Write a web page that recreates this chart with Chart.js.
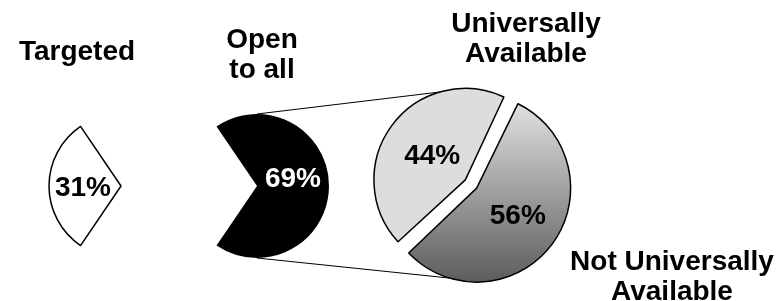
<!DOCTYPE html>
<html>
<head>
<meta charset="utf-8">
<script src="https://cdn.jsdelivr.net/npm/chart.js@4/dist/chart.umd.min.js"></script>
<style>
  body { margin: 0; background: #fff; }
  #wrap { position: relative; width: 783px; height: 301px; overflow: hidden; }
  #wrap canvas { position: absolute; left: 0; top: 0; }
  .lbl { position: absolute; font-family: "Liberation Sans", Arial, sans-serif; font-weight: bold;
         font-size: 28px; line-height: 30px; text-align: center; color: #000; white-space: nowrap; }
</style>
</head>
<body>
<div id="wrap">
  <canvas id="pieTargeted" width="783" height="301"></canvas>
  <canvas id="pieOpen" width="783" height="301"></canvas>
  <canvas id="pieAvail" width="783" height="301"></canvas>
  <div class="lbl" style="left:14px; top:36px; width:126px;">Targeted</div>
  <div class="lbl" style="left:202px; top:24px; width:120px;">Open<br>to all</div>
  <div class="lbl" style="left:446px; top:8px; width:160px;">Universally<br>Available</div>
  <div class="lbl" style="left:562px; top:246px; width:220px;">Not Universally<br>Available</div>
</div>
<script>
  // first pie: who can get it
  var accessLabels = ["Targeted", "Open to all"];
  var accessValues = [31, 69];

  // second pie: split of the "open to all" part
  var availLabels = ["Universally Available", "Not Universally Available"];
  var availValues = [44, 56];

  Chart.defaults.font.family = "'Liberation Sans', Arial, sans-serif";
  Chart.defaults.animation = false;

  // radius the arc is really painted with (chart.js grows offset slices a bit)
  function drawnRadius(arc) {
    var shift = (arc.options.offset || 0) / 4;
    var circ = arc.endAngle - arc.startAngle;
    return arc.outerRadius + shift * (1 - Math.sin(Math.min(Math.PI, circ)));
  }

  // percentage text inside each slice (only for slices we show)
  function pctLabels(colors, shiftX, shiftY) {
    return {
      id: "pctLabels",
      afterDatasetsDraw(chart) {
        var ctx = chart.ctx;
        var meta = chart.getDatasetMeta(0);
        var values = chart.data.datasets[0].data;
        var total = values.reduce((a, b) => a + b, 0);
        ctx.save();
        ctx.font = "bold 28px 'Liberation Sans', Arial, sans-serif";
        ctx.textAlign = "center";
        ctx.textBaseline = "middle";
        meta.data.forEach((arc, i) => {
          if (!colors[i]) return;
          var mid = (arc.startAngle + arc.endAngle) / 2;
          var shift = (arc.options.offset || 0) / 4;
          var r = arc.outerRadius * 0.5 + shift;
          ctx.fillStyle = colors[i];
          ctx.fillText(Math.round(values[i] / total * 100) + "%",
            arc.x + Math.cos(mid) * r + shiftX[i], arc.y + Math.sin(mid) * r + shiftY[i]);
        });
        ctx.restore();
      },
    };
  }

  // the first pie is drawn twice: once for the pulled-out "targeted" slice,
  // once for the "open to all" slice, so both keep the same radius
  function accessPie(id, show, padding, textColors, sx, sy) {
    return new Chart(document.getElementById(id).getContext("2d"), {
      type: "pie",
      data: {
        labels: accessLabels,
        datasets: [{
          data: accessValues,
          backgroundColor: show.map((s, i) => !s ? "rgba(0,0,0,0)" : (i === 0 ? "#ffffff" : "#000000")),
          borderColor: show.map((s) => s ? "#000000" : "rgba(0,0,0,0)"),
          borderWidth: [1.5, 0],
        }],
      },
      options: {
        responsive: false,
        devicePixelRatio: 1,
        radius: 72,
        rotation: 270 - accessValues[0] / 100 * 180,
        layout: { padding: padding },
        plugins: { legend: { display: false }, tooltip: { enabled: false } },
      },
      plugins: [pctLabels(textColors, sx, sy)],
    });
  }

  var pieTargeted = accessPie("pieTargeted", [true, false],
    { left: 0, right: 541, top: 71, bottom: 0 }, ["#000000", null], [-2, 0], [2, 0]);
  var pieOpen = accessPie("pieOpen", [false, true],
    { left: 0, right: 269, top: 71, bottom: 0 }, [null, "#ffffff"], [0, 0], [0, -7]);

  // thin lines joining the "open to all" slice to the second pie
  var joinLines = {
    id: "joinLines",
    beforeDatasetsDraw(chart) {
      var src = pieOpen.getDatasetMeta(0).data[1];
      var arcs = chart.getDatasetMeta(0).data;
      var ctx = chart.ctx;
      function edge(arc, deg) {
        var a = (deg - 90) * Math.PI / 180;
        var mid = (arc.startAngle + arc.endAngle) / 2;
        var shift = (arc.options.offset || 0) / 4;
        var r = drawnRadius(arc);
        return [arc.x + Math.cos(mid) * shift + Math.cos(a) * r,
                arc.y + Math.sin(mid) * shift + Math.sin(a) * r];
      }
      var top = edge(arcs[0], 344);
      var bot = edge(arcs[1], 197);
      ctx.save();
      ctx.strokeStyle = "#000";
      ctx.lineWidth = 1;
      ctx.beginPath();
      ctx.moveTo(src.x, src.y - src.outerRadius);
      ctx.lineTo(top[0], top[1]);
      ctx.moveTo(src.x, src.y + src.outerRadius);
      ctx.lineTo(bot[0], bot[1]);
      ctx.stroke();
      ctx.restore();
    },
  };

  // flat grey for the first slice, top-to-bottom fade for the second
  function availFill(context) {
    if (context.dataIndex === 0) return "#dddddd";
    var chart = context.chart;
    var area = chart.chartArea;
    if (!area) return "#a0a0a0";
    var cy = (area.top + area.bottom) / 2;
    var r = 92;
    var g = chart.ctx.createLinearGradient(0, cy - r, 0, cy + r);
    g.addColorStop(0, "#e6e6e6");
    g.addColorStop(1, "#5e5e5e");
    return g;
  }

  var pieAvail = new Chart(document.getElementById("pieAvail").getContext("2d"), {
    type: "pie",
    data: {
      labels: availLabels,
      datasets: [{
        data: availValues,
        backgroundColor: availFill,
        borderColor: "#000000",
        borderWidth: 1.5,
        offset: 28,
      }],
    },
    options: {
      responsive: false,
      devicePixelRatio: 1,
      radius: 87,
      rotation: 227,
      layout: { padding: { left: 159, right: 0, top: 67, bottom: 0 } },
      plugins: { legend: { display: false }, tooltip: { enabled: false } },
    },
    plugins: [joinLines, pctLabels(["#000000", "#000000"], [2, 6], [2, 2])],
  });
</script>
</body>
</html>
